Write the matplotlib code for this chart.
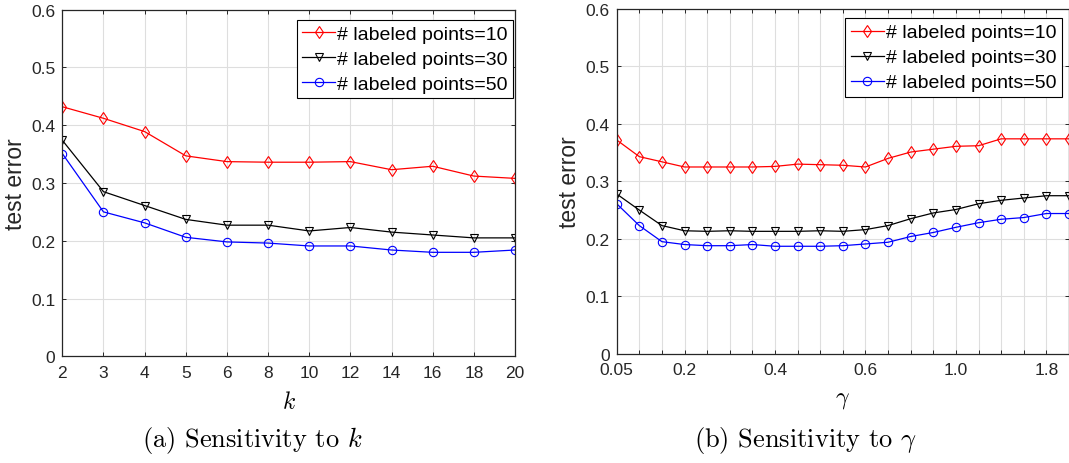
import numpy as np
import matplotlib
matplotlib.use("Agg")
import matplotlib.pyplot as plt

plt.rcParams["font.family"] = ["Liberation Sans", "DejaVu Sans"]
plt.rcParams["mathtext.fontset"] = "cm"

# data
k_labels = ["2", "3", "4", "5", "6", "8", "10", "12", "14", "16", "18", "20"]
err_k_10 = [0.432, 0.412, 0.389, 0.347, 0.337, 0.336, 0.336, 0.337, 0.323, 0.329, 0.312, 0.308]
err_k_30 = [0.374, 0.285, 0.261, 0.237, 0.227, 0.227, 0.217, 0.223, 0.215, 0.210, 0.205, 0.205]
err_k_50 = [0.351, 0.250, 0.231, 0.206, 0.198, 0.196, 0.191, 0.191, 0.184, 0.180, 0.180, 0.184]

gamma_labels = ["0.05", "", "", "0.2", "", "", "", "0.4", "", "", "", "0.6",
                "", "", "", "1.0", "", "", "", "1.8", ""]
err_g_10 = [0.372, 0.343, 0.334, 0.325, 0.325, 0.325, 0.325, 0.326, 0.330, 0.329, 0.328,
            0.325, 0.340, 0.351, 0.356, 0.361, 0.362, 0.374, 0.374, 0.374, 0.374]
err_g_30 = [0.278, 0.250, 0.223, 0.214, 0.213, 0.214, 0.213, 0.213, 0.213, 0.214, 0.213,
            0.216, 0.223, 0.235, 0.245, 0.251, 0.261, 0.267, 0.271, 0.275, 0.275]
err_g_50 = [0.261, 0.223, 0.195, 0.190, 0.188, 0.188, 0.190, 0.187, 0.187, 0.187, 0.188,
            0.191, 0.194, 0.204, 0.211, 0.220, 0.228, 0.234, 0.237, 0.244, 0.244]

series_names = ["# labeled points=10", "# labeled points=30", "# labeled points=50"]
y_ticks = [0, 0.1, 0.2, 0.3, 0.4, 0.5, 0.6]
y_labels = ["0", "0.1", "0.2", "0.3", "0.4", "0.5", "0.6"]

STYLES = [dict(color="red", marker="d"), dict(color="black", marker="v"), dict(color="blue", marker="o")]
AX_COLOR = "#262626"
GRID = "#dedede"

W, H = 1069, 464
fig = plt.figure(figsize=(W / 100, H / 100), dpi=100)


def px_axes(x0, y0, x1, y1):
    return fig.add_axes([x0 / W, 1 - y1 / H, (x1 - x0) / W, (y1 - y0) / H])


def style_axes(ax, n, labels):
    ax.set_xlim(0, n - 1)
    ax.set_ylim(0, 0.6)
    ax.set_xticks(np.arange(n))
    ax.set_xticklabels(labels)
    ax.set_yticks(y_ticks)
    ax.set_yticklabels(y_labels)
    ax.grid(True, color=GRID, lw=0.8)
    ax.set_axisbelow(True)
    ax.tick_params(direction="in", length=3, width=0.7, top=True, right=True,
                   colors=AX_COLOR, labelsize=12.5, pad=5)
    ax.tick_params(axis="x", pad=6)
    for s in ax.spines.values():
        s.set_color(AX_COLOR)
        s.set_linewidth(0.9)
    ax.set_ylabel("test error", fontsize=16.5, color=AX_COLOR, labelpad=3)


def draw(ax, series):
    x = np.arange(len(series[0]))
    for ys, st, name in zip(series, STYLES, series_names):
        ax.plot(x, ys, lw=0.9, markersize=6, markerfacecolor="none", markeredgewidth=0.8,
                label=name, **st)


def add_legend(ax, anchor):
    leg = ax.legend(loc="upper right", bbox_to_anchor=anchor, borderaxespad=0,
                    fontsize=14, fancybox=False, edgecolor="black", framealpha=1,
                    handlelength=1.7, handletextpad=0.1, labelspacing=0.38, borderpad=0.28)
    leg.get_frame().set_linewidth(0.8)


ax1 = px_axes(62.3, 10.7, 515, 357.3)
draw(ax1, [err_k_10, err_k_30, err_k_50])
style_axes(ax1, len(k_labels), k_labels)
ax1.set_xlabel("$k$", fontsize=17, labelpad=8)
add_legend(ax1, (0.996, 0.971))

ax2 = px_axes(616.7, 10, 1069, 354.7)
draw(ax2, [err_g_10, err_g_30, err_g_50])
style_axes(ax2, len(gamma_labels), gamma_labels)
ax2.set_xlabel(r"$\gamma$", fontsize=17, labelpad=8)
add_legend(ax2, (0.984, 0.973))

fig.text(252 / W, 1 - 441 / H, "(a) Sensitivity to $k$", family="cmr10", fontsize=19,
         ha="center", va="center")
fig.text(805 / W, 1 - 441 / H, r"(b) Sensitivity to $\gamma$", family="cmr10", fontsize=19,
         ha="center", va="center")

fig.savefig("out.png", dpi=100)
